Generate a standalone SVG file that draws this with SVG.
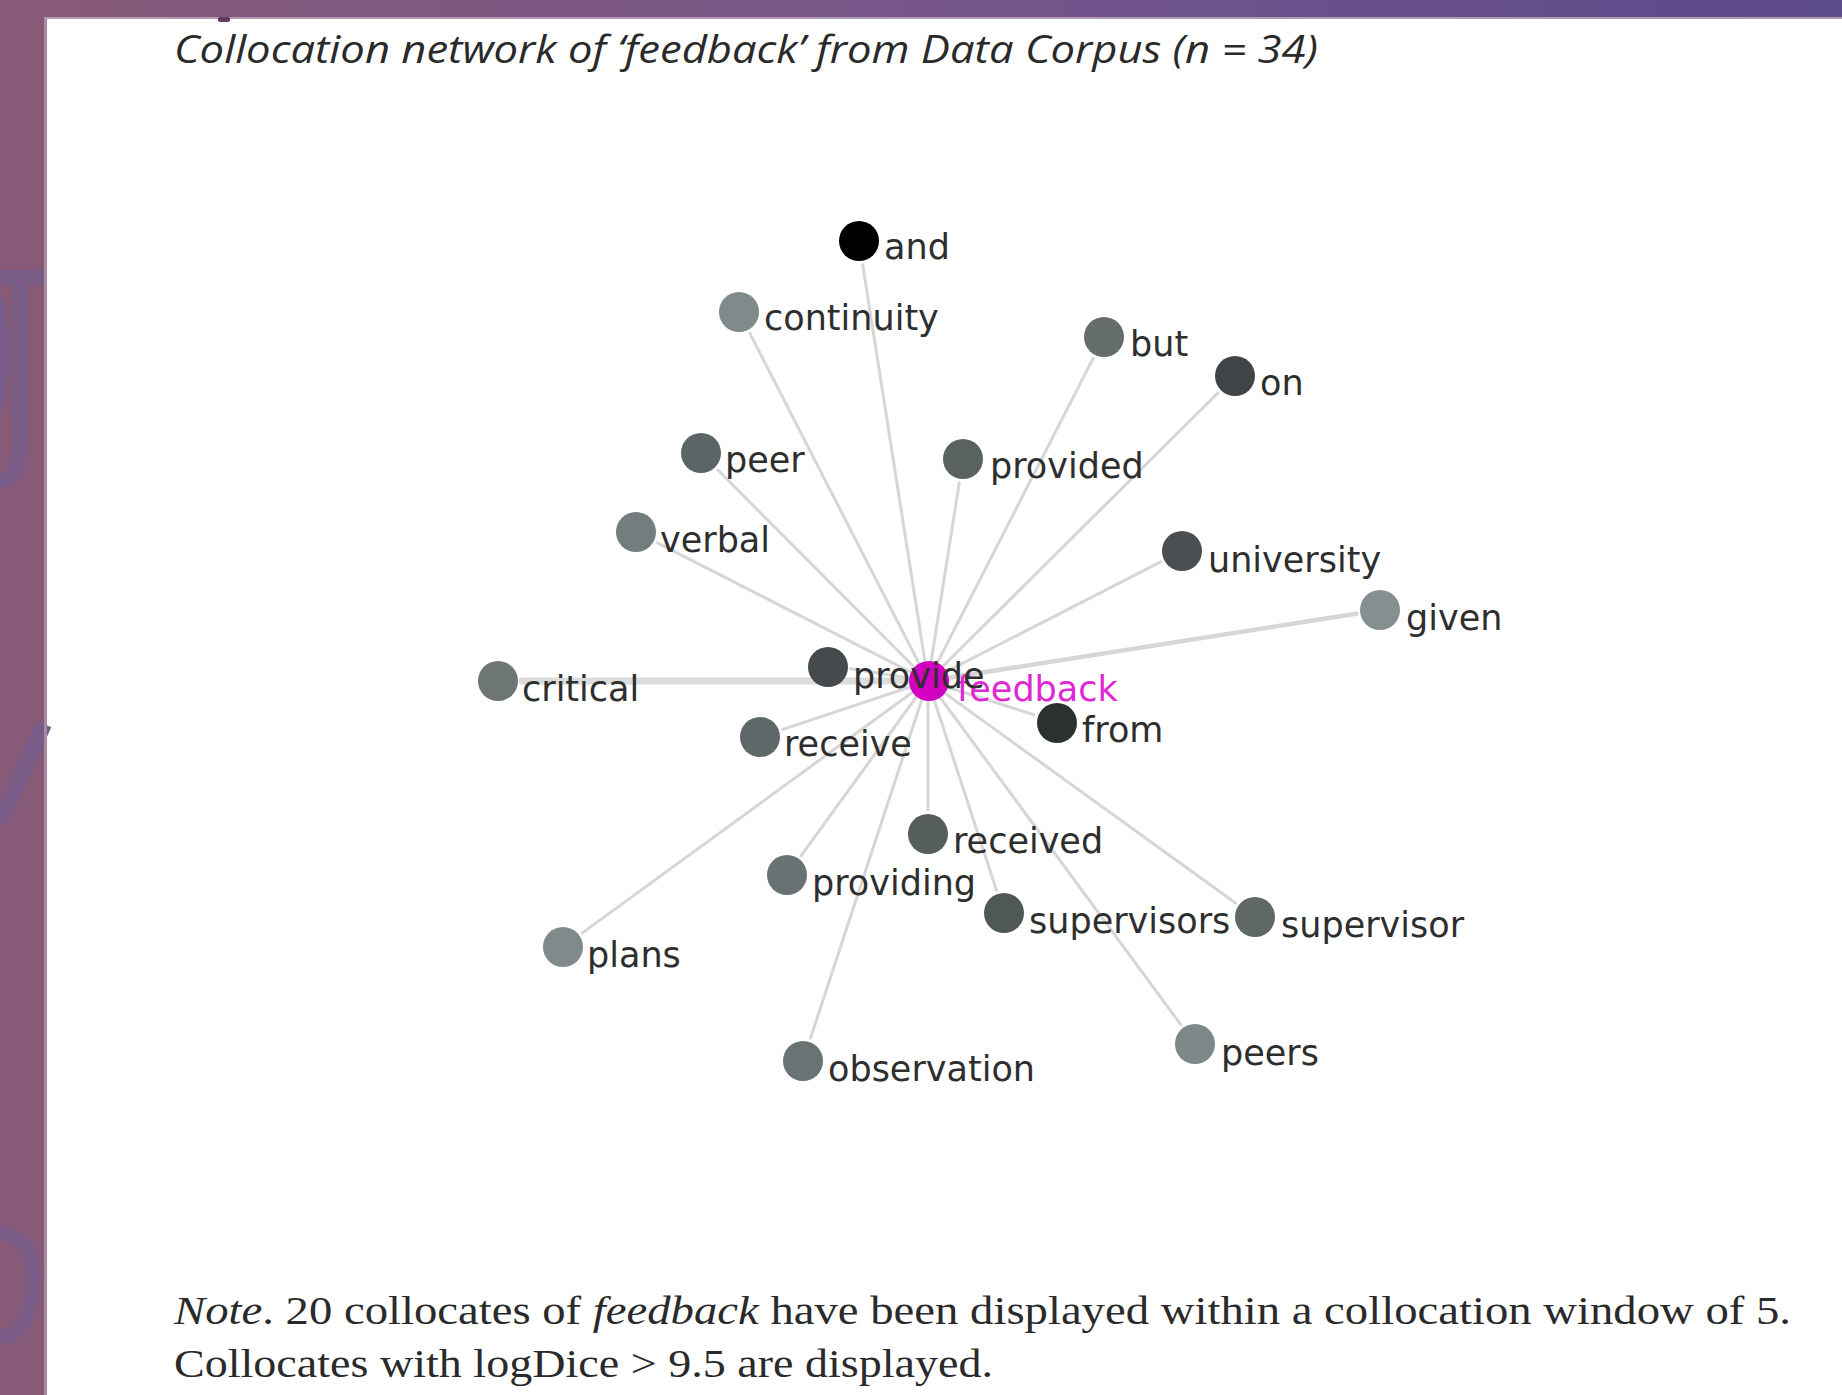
<svg xmlns="http://www.w3.org/2000/svg" width="1842" height="1395" viewBox="0 0 1842 1395">
<defs>
<linearGradient id="topband" x1="0" y1="0" x2="1" y2="0">
<stop offset="0" stop-color="#885a78"/>
<stop offset="0.5" stop-color="#76568a"/>
<stop offset="1" stop-color="#5b4a8c"/>
</linearGradient>
<style>
.edge{stroke:#d6d6d6;stroke-width:3;stroke-linecap:round;fill:none}
.lbl{font-family:"DejaVu Sans",sans-serif;font-size:35px;fill:#2e2e2e}
.title{font-family:"Open Sans","Liberation Sans",sans-serif;font-style:italic;font-size:38px;fill:#2a2a2a}
.note{font-family:"Liberation Serif",serif;font-size:41px;fill:#2a2a2a}
.wm{fill:none;stroke:#795d88;stroke-width:15}
</style>
</defs>
<rect x="0" y="0" width="1842" height="1395" fill="#ffffff"/>
<rect x="0" y="0" width="1842" height="17" fill="url(#topband)"/>
<rect x="44" y="17" width="1798" height="2" fill="#b199b3"/>
<rect x="0" y="0" width="44" height="1395" fill="#875a78"/>
<g id="watermark">
<path class="wm" d="M0 277 L44 277"/>
<path class="wm" d="M20 277 L20 440 Q20 478 0 482"/>
<path class="wm" d="M0 300 Q8 350 0 410" style="stroke-width:10"/>
<path class="wm" d="M44 724 L0 822" style="stroke-width:16"/>
<path class="wm" d="M0 1232 Q40 1240 32 1290 Q28 1335 0 1338" style="stroke-width:14"/>
</g>
<rect x="44" y="19" width="3" height="1376" fill="#a98aa2"/>
<rect x="218" y="17" width="12" height="5" rx="2" fill="#5e3f5e"/>

<text class="title" x="174" y="63" textLength="1144" lengthAdjust="spacingAndGlyphs">Collocation network of ‘feedback’ from Data Corpus (n = 34)</text>

<g id="edges">
<line class="edge" x1="928" y1="681" x2="862.7" y2="264.7"/>
<line class="edge" x1="928" y1="681" x2="749.9" y2="333.4"/>
<line class="edge" x1="928" y1="681" x2="1093.1" y2="358.4"/>
<line class="edge" x1="928" y1="681" x2="1218" y2="392.9"/>
<line class="edge" x1="928" y1="681" x2="717.9" y2="470"/>
<line class="edge" x1="928" y1="681" x2="959.3" y2="482.7"/>
<line class="edge" x1="928" y1="681" x2="657.4" y2="542.9"/>
<line class="edge" x1="928" y1="681" x2="1160.6" y2="561.9"/>
<line class="edge" x1="928" y1="681" x2="1356.3" y2="613.7" style="stroke-width:4.5"/>
<line class="edge" x1="928" y1="681" x2="522" y2="681" style="stroke-width:7;stroke:#dcdcdc"/>
<line class="edge" x1="928" y1="681" x2="850.7" y2="668.8"/>
<line class="edge" x1="928" y1="681" x2="1034.1" y2="714.7"/>
<line class="edge" x1="928" y1="681" x2="782.8" y2="729.4"/>
<line class="edge" x1="928" y1="681" x2="928" y2="810"/>
<line class="edge" x1="928" y1="681" x2="801.1" y2="855.6"/>
<line class="edge" x1="928" y1="681" x2="996.5" y2="890.2"/>
<line class="edge" x1="928" y1="681" x2="1235.5" y2="903"/>
<line class="edge" x1="928" y1="681" x2="582.4" y2="932.9"/>
<line class="edge" x1="928" y1="681" x2="810.5" y2="1038.2"/>
<line class="edge" x1="928" y1="681" x2="1180.8" y2="1024.7"/>
</g>

<g id="node-feedback"><circle cx="929" cy="681" r="20" fill="#d200c0"/><text class="lbl" x="957" y="701" style="fill:#e028d2">feedback</text></g>
<g id="node-and"><circle cx="859" cy="241" r="20" fill="#000000"/><text class="lbl" x="884" y="259">and</text></g>
<g id="node-continuity"><circle cx="739" cy="312" r="20" fill="#808a8a"/><text class="lbl" x="764" y="330">continuity</text></g>
<g id="node-but"><circle cx="1104" cy="337" r="20" fill="#646c6c"/><text class="lbl" x="1130" y="356">but</text></g>
<g id="node-on"><circle cx="1235" cy="376" r="20" fill="#3f4546"/><text class="lbl" x="1260" y="395">on</text></g>
<g id="node-peer"><circle cx="701" cy="453" r="20" fill="#5c6565"/><text class="lbl" x="725" y="472">peer</text></g>
<g id="node-provided"><circle cx="963" cy="459" r="20" fill="#596161"/><text class="lbl" x="990" y="478">provided</text></g>
<g id="node-verbal"><circle cx="636" cy="532" r="20" fill="#747d7d"/><text class="lbl" x="660" y="552">verbal</text></g>
<g id="node-university"><circle cx="1182" cy="551" r="20" fill="#4a5051"/><text class="lbl" x="1208" y="572">university</text></g>
<g id="node-given"><circle cx="1380" cy="610" r="20" fill="#858f8f"/><text class="lbl" x="1406" y="630">given</text></g>
<g id="node-critical"><circle cx="498" cy="681" r="20" fill="#6d7575"/><text class="lbl" x="522" y="701">critical</text></g>
<g id="node-receive"><circle cx="760" cy="737" r="20" fill="#5f6868"/><text class="lbl" x="784" y="756">receive</text></g>
<g id="node-received"><circle cx="928" cy="834" r="20" fill="#555d5d"/><text class="lbl" x="953" y="853">received</text></g>
<g id="node-providing"><circle cx="787" cy="875" r="20" fill="#697272"/><text class="lbl" x="812" y="895">providing</text></g>
<g id="node-supervisors"><circle cx="1004" cy="913" r="20" fill="#4f5757"/><text class="lbl" x="1029" y="933">supervisors</text></g>
<g id="node-supervisor"><circle cx="1255" cy="917" r="20" fill="#5f6767"/><text class="lbl" x="1281" y="937">supervisor</text></g>
<g id="node-plans"><circle cx="563" cy="947" r="20" fill="#808a8a"/><text class="lbl" x="587" y="967">plans</text></g>
<g id="node-observation"><circle cx="803" cy="1061" r="20" fill="#6a7373"/><text class="lbl" x="828" y="1081">observation</text></g>
<g id="node-peers"><circle cx="1195" cy="1044" r="20" fill="#7e8888"/><text class="lbl" x="1221" y="1065">peers</text></g>
<g id="node-from"><circle cx="1057" cy="723" r="20" fill="#2b3031"/><text class="lbl" x="1082" y="742">from</text></g>
<g id="node-provide"><circle cx="828" cy="667" r="20" fill="#454b4c"/><text class="lbl" x="853" y="688">provide</text></g>

<text class="note" x="174" y="1324" textLength="1617" lengthAdjust="spacingAndGlyphs"><tspan font-style="italic">Note</tspan>. 20 collocates of <tspan font-style="italic">feedback</tspan> have been displayed within a collocation window of 5.</text>
<text class="note" x="174" y="1377" textLength="819" lengthAdjust="spacingAndGlyphs">Collocates with logDice &gt; 9.5 are displayed.</text>
</svg>
